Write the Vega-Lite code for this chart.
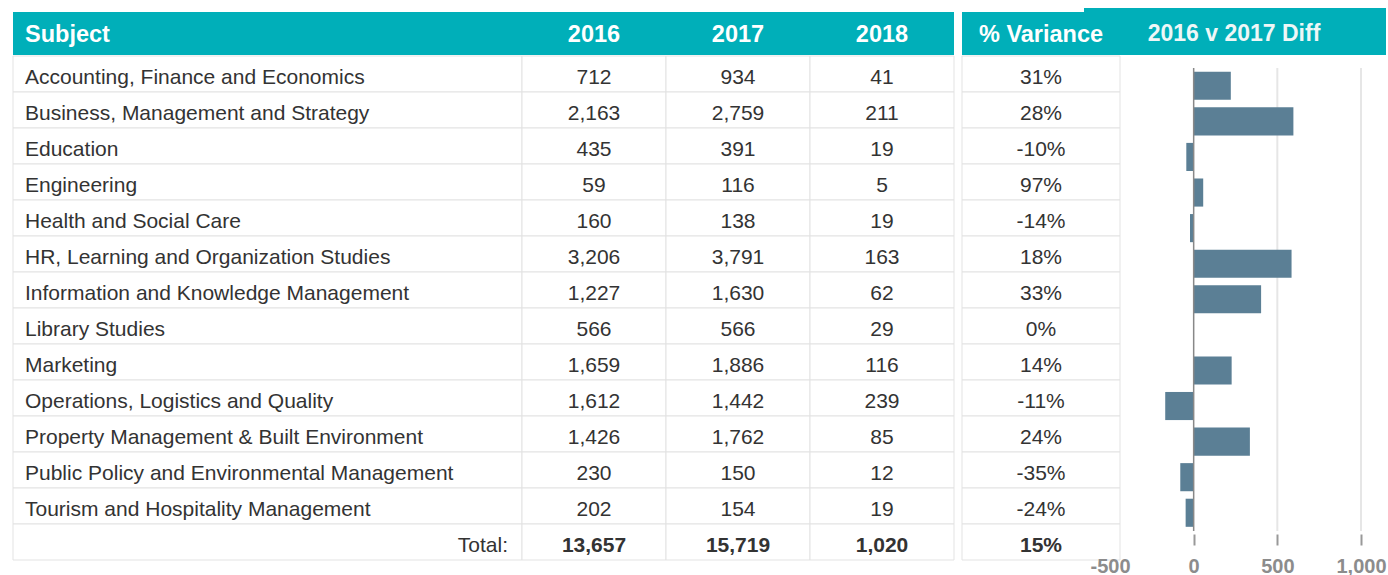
{
  "$schema": "https://vega.github.io/schema/vega-lite/v6.json",
  "background": "white",
  "padding": {"left": 12, "top": 8, "right": 0, "bottom": 0},
  "config": {
    "font": "Liberation Sans",
    "view": {"stroke": null},
    "locale": {"number": {"decimal": ".", "thousands": ",", "grouping": [3], "currency": ["$", ""], "minus": "-"}}
  },
  "datasets": {
    "rows": [
      {"row": 1, "kind": "subject", "subject": "Accounting, Finance and Economics", "y2016": 712, "y2017": 934, "y2018": 41, "variance": 0.31, "diff": 222},
      {"row": 2, "kind": "subject", "subject": "Business, Management and Strategy", "y2016": 2163, "y2017": 2759, "y2018": 211, "variance": 0.28, "diff": 596},
      {"row": 3, "kind": "subject", "subject": "Education", "y2016": 435, "y2017": 391, "y2018": 19, "variance": -0.10, "diff": -44},
      {"row": 4, "kind": "subject", "subject": "Engineering", "y2016": 59, "y2017": 116, "y2018": 5, "variance": 0.97, "diff": 57},
      {"row": 5, "kind": "subject", "subject": "Health and Social Care", "y2016": 160, "y2017": 138, "y2018": 19, "variance": -0.14, "diff": -22},
      {"row": 6, "kind": "subject", "subject": "HR, Learning and Organization Studies", "y2016": 3206, "y2017": 3791, "y2018": 163, "variance": 0.18, "diff": 585},
      {"row": 7, "kind": "subject", "subject": "Information and Knowledge Management", "y2016": 1227, "y2017": 1630, "y2018": 62, "variance": 0.33, "diff": 403},
      {"row": 8, "kind": "subject", "subject": "Library Studies", "y2016": 566, "y2017": 566, "y2018": 29, "variance": 0.0, "diff": 0},
      {"row": 9, "kind": "subject", "subject": "Marketing", "y2016": 1659, "y2017": 1886, "y2018": 116, "variance": 0.14, "diff": 227},
      {"row": 10, "kind": "subject", "subject": "Operations, Logistics and Quality", "y2016": 1612, "y2017": 1442, "y2018": 239, "variance": -0.11, "diff": -170},
      {"row": 11, "kind": "subject", "subject": "Property Management & Built Environment", "y2016": 1426, "y2017": 1762, "y2018": 85, "variance": 0.24, "diff": 336},
      {"row": 12, "kind": "subject", "subject": "Public Policy and Environmental Management", "y2016": 230, "y2017": 150, "y2018": 12, "variance": -0.35, "diff": -80},
      {"row": 13, "kind": "subject", "subject": "Tourism and Hospitality Management", "y2016": 202, "y2017": 154, "y2018": 19, "variance": -0.24, "diff": -48},
      {"row": 14, "kind": "total", "subject": "Total:", "y2016": 13657, "y2017": 15719, "y2018": 1020, "variance": 0.15}
    ],
    "gridvals": [{"v": 500}, {"v": 1000}]
  },
  "spacing": 0,
  "vconcat": [
    {
      "spacing": 0,
      "bounds": "flush",
      "hconcat": [
        {
          "width": 509, "height": 47,
          "data": {"values": [{"t": "Subject"}]},
          "layer": [
            {"mark": {"type": "rect", "color": "#00afb9", "yOffset": 4},
             "encoding": {"x": {"datum": 0, "type": "quantitative", "scale": {"domain": [0, 1]}, "axis": null}, "x2": {"datum": 1},
                          "y": {"datum": 1, "type": "quantitative", "scale": {"domain": [0, 1]}, "axis": null}, "y2": {"datum": 0}}},
            {"mark": {"type": "text", "align": "left", "dx": 12, "dy": 3, "fontSize": 23.5, "fontWeight": "bold", "color": "white"},
             "encoding": {"x": {"datum": 0, "type": "quantitative"}, "text": {"field": "t"}}}
          ]
        },
        {
          "width": 144, "height": 47,
          "data": {"values": [{"t": "2016"}]},
          "layer": [
            {"mark": {"type": "rect", "color": "#00afb9", "yOffset": 4},
             "encoding": {"x": {"datum": 0, "type": "quantitative", "scale": {"domain": [0, 1]}, "axis": null}, "x2": {"datum": 1},
                          "y": {"datum": 1, "type": "quantitative", "scale": {"domain": [0, 1]}, "axis": null}, "y2": {"datum": 0}}},
            {"mark": {"type": "text", "dy": 3, "fontSize": 23.5, "fontWeight": "bold", "color": "white"}, "encoding": {"text": {"field": "t"}}}
          ]
        },
        {
          "width": 144, "height": 47,
          "data": {"values": [{"t": "2017"}]},
          "layer": [
            {"mark": {"type": "rect", "color": "#00afb9", "yOffset": 4},
             "encoding": {"x": {"datum": 0, "type": "quantitative", "scale": {"domain": [0, 1]}, "axis": null}, "x2": {"datum": 1},
                          "y": {"datum": 1, "type": "quantitative", "scale": {"domain": [0, 1]}, "axis": null}, "y2": {"datum": 0}}},
            {"mark": {"type": "text", "dy": 3, "fontSize": 23.5, "fontWeight": "bold", "color": "white"}, "encoding": {"text": {"field": "t"}}}
          ]
        },
        {
          "width": 144, "height": 47,
          "data": {"values": [{"t": "2018"}]},
          "layer": [
            {"mark": {"type": "rect", "color": "#00afb9", "yOffset": 4},
             "encoding": {"x": {"datum": 0, "type": "quantitative", "scale": {"domain": [0, 1]}, "axis": null}, "x2": {"datum": 1},
                          "y": {"datum": 1, "type": "quantitative", "scale": {"domain": [0, 1]}, "axis": null}, "y2": {"datum": 0}}},
            {"mark": {"type": "text", "dy": 3, "fontSize": 23.5, "fontWeight": "bold", "color": "white"}, "encoding": {"text": {"field": "t"}}}
          ]
        },
        {
          "width": 156, "height": 47,
          "data": {"values": [{"t": "% Variance"}]},
          "layer": [
            {"mark": {"type": "rect", "color": "#00afb9", "xOffset": 130, "x2Offset": 276},
             "encoding": {"x": {"datum": 0, "type": "quantitative", "scale": {"domain": [0, 1]}, "axis": null}, "x2": {"datum": 1},
                          "y": {"datum": 1, "type": "quantitative", "scale": {"domain": [0, 1]}, "axis": null}, "y2": {"datum": 0}}},
            {"mark": {"type": "rect", "color": "#00afb9", "xOffset": 8, "x2Offset": 10, "yOffset": 4},
             "encoding": {"x": {"datum": 0, "type": "quantitative"}, "x2": {"datum": 1},
                          "y": {"datum": 1, "type": "quantitative"}, "y2": {"datum": 0}}},
            {"mark": {"type": "text", "dx": 9, "dy": 3, "fontSize": 23.5, "fontWeight": "bold", "color": "white"}, "encoding": {"text": {"field": "t"}}}
          ]
        },
        {
          "width": 251, "height": 47,
          "data": {"values": [{"t": "2016 v 2017 Diff"}]},
          "mark": {"type": "text", "dx": -1.5, "dy": 2.3, "fontSize": 23, "fontWeight": "bold", "color": "#eef7f7"},
          "encoding": {"text": {"field": "t"}}
        }
      ]
    },
    {
      "spacing": 0,
      "bounds": "flush",
      "hconcat": [
        {
          "width": 509, "height": 504,
          "data": {"name": "rows"},
          "layer": [
            {"mark": {"type": "rect", "fill": "white", "stroke": "#e3e3e3", "strokeWidth": 1},
             "encoding": {"y": {"field": "row", "type": "ordinal", "axis": null, "scale": {"paddingInner": 0, "paddingOuter": 0}},
                          "x": {"datum": 0, "type": "quantitative", "scale": {"domain": [0, 1]}, "axis": null}, "x2": {"datum": 1}}},
            {"transform": [{"filter": "datum.kind == 'subject'"}],
             "mark": {"type": "text", "align": "left", "dx": 12, "dy": 3.5, "fontSize": 21, "color": "#333333"},
             "encoding": {"y": {"field": "row", "type": "ordinal", "axis": null},
                          "x": {"datum": 0, "type": "quantitative"},
                          "text": {"field": "subject"}}},
            {"transform": [{"filter": "datum.kind == 'total'"}],
             "mark": {"type": "text", "align": "right", "dx": -14, "dy": 3.5, "fontSize": 21, "color": "#333333"},
             "encoding": {"y": {"field": "row", "type": "ordinal", "axis": null},
                          "x": {"datum": 1, "type": "quantitative"},
                          "text": {"field": "subject"}}}
          ]
        },
        {
          "width": 144, "height": 504,
          "data": {"name": "rows"},
          "layer": [
            {"mark": {"type": "rect", "fill": "white", "stroke": "#e3e3e3", "strokeWidth": 1},
             "encoding": {"y": {"field": "row", "type": "ordinal", "axis": null, "scale": {"paddingInner": 0, "paddingOuter": 0}},
                          "x": {"datum": 0, "type": "quantitative", "scale": {"domain": [0, 1]}, "axis": null}, "x2": {"datum": 1}}},
            {"transform": [{"filter": "datum.kind == 'subject'"}],
             "mark": {"type": "text", "dy": 3.5, "fontSize": 21, "color": "#333333"},
             "encoding": {"y": {"field": "row", "type": "ordinal", "axis": null}, "text": {"field": "y2016", "type": "quantitative", "format": ","}}},
            {"transform": [{"filter": "datum.kind == 'total'"}],
             "mark": {"type": "text", "dy": 3.5, "fontSize": 21, "fontWeight": "bold", "color": "#333333"},
             "encoding": {"y": {"field": "row", "type": "ordinal", "axis": null}, "text": {"field": "y2016", "type": "quantitative", "format": ","}}}
          ]
        },
        {
          "width": 144, "height": 504,
          "data": {"name": "rows"},
          "layer": [
            {"mark": {"type": "rect", "fill": "white", "stroke": "#e3e3e3", "strokeWidth": 1},
             "encoding": {"y": {"field": "row", "type": "ordinal", "axis": null, "scale": {"paddingInner": 0, "paddingOuter": 0}},
                          "x": {"datum": 0, "type": "quantitative", "scale": {"domain": [0, 1]}, "axis": null}, "x2": {"datum": 1}}},
            {"transform": [{"filter": "datum.kind == 'subject'"}],
             "mark": {"type": "text", "dy": 3.5, "fontSize": 21, "color": "#333333"},
             "encoding": {"y": {"field": "row", "type": "ordinal", "axis": null}, "text": {"field": "y2017", "type": "quantitative", "format": ","}}},
            {"transform": [{"filter": "datum.kind == 'total'"}],
             "mark": {"type": "text", "dy": 3.5, "fontSize": 21, "fontWeight": "bold", "color": "#333333"},
             "encoding": {"y": {"field": "row", "type": "ordinal", "axis": null}, "text": {"field": "y2017", "type": "quantitative", "format": ","}}}
          ]
        },
        {
          "width": 144, "height": 504,
          "data": {"name": "rows"},
          "layer": [
            {"mark": {"type": "rect", "fill": "white", "stroke": "#e3e3e3", "strokeWidth": 1},
             "encoding": {"y": {"field": "row", "type": "ordinal", "axis": null, "scale": {"paddingInner": 0, "paddingOuter": 0}},
                          "x": {"datum": 0, "type": "quantitative", "scale": {"domain": [0, 1]}, "axis": null}, "x2": {"datum": 1}}},
            {"transform": [{"filter": "datum.kind == 'subject'"}],
             "mark": {"type": "text", "dy": 3.5, "fontSize": 21, "color": "#333333"},
             "encoding": {"y": {"field": "row", "type": "ordinal", "axis": null}, "text": {"field": "y2018", "type": "quantitative", "format": ","}}},
            {"transform": [{"filter": "datum.kind == 'total'"}],
             "mark": {"type": "text", "dy": 3.5, "fontSize": 21, "fontWeight": "bold", "color": "#333333"},
             "encoding": {"y": {"field": "row", "type": "ordinal", "axis": null}, "text": {"field": "y2018", "type": "quantitative", "format": ","}}}
          ]
        },
        {
          "width": 156, "height": 504,
          "data": {"name": "rows"},
          "layer": [
            {"mark": {"type": "rect", "fill": "white", "stroke": "#e3e3e3", "strokeWidth": 1, "xOffset": 8, "x2Offset": 10},
             "encoding": {"y": {"field": "row", "type": "ordinal", "axis": null, "scale": {"paddingInner": 0, "paddingOuter": 0}},
                          "x": {"datum": 0, "type": "quantitative", "scale": {"domain": [0, 1]}, "axis": null}, "x2": {"datum": 1}}},
            {"transform": [{"filter": "datum.kind == 'subject'"}],
             "mark": {"type": "text", "dx": 9, "dy": 3.5, "fontSize": 21, "color": "#333333"},
             "encoding": {"y": {"field": "row", "type": "ordinal", "axis": null}, "text": {"field": "variance", "type": "quantitative", "format": ".0%"}}},
            {"transform": [{"filter": "datum.kind == 'total'"}],
             "mark": {"type": "text", "dx": 9, "dy": 3.5, "fontSize": 21, "fontWeight": "bold", "color": "#333333"},
             "encoding": {"y": {"field": "row", "type": "ordinal", "axis": null}, "text": {"field": "variance", "type": "quantitative", "format": ".0%"}}}
          ]
        },
        {
          "width": 251, "height": 475,
          "layer": [
            {"data": {"name": "gridvals"},
             "mark": {"type": "rule", "color": "#e6e6e6", "strokeWidth": 2, "yOffset": 12},
             "encoding": {"x": {"field": "v", "type": "quantitative"}}},
            {"data": {"name": "rows"},
             "transform": [{"filter": "datum.kind == 'subject'"}],
             "mark": {"type": "bar", "color": "#5b7f95"},
             "encoding": {
               "y": {"field": "row", "type": "ordinal", "axis": null, "scale": {"paddingInner": 0.21, "paddingOuter": 0.28, "align": 0.79}},
               "x": {"field": "diff", "type": "quantitative", "title": null,
                     "scale": {"domain": [-500, 1000], "nice": false},
                     "axis": {"values": [-500, 0, 500, 1000], "format": ",.0f", "domain": false, "grid": false,
                              "tickColor": "#999999", "tickWidth": 2, "tickSize": 11,
                              "tickOpacity": {"condition": {"test": "datum.value >= 0", "value": 1}, "value": 0},
                              "offset": 3, "labelFontSize": 20, "labelFontWeight": "bold", "labelColor": "#8c8c8c",
                              "labelPadding": 11, "labelFlush": false, "labelOverlap": false}}
             }},
            {"data": {"values": [{"z": 0}]},
             "mark": {"type": "rule", "color": "#888888", "strokeWidth": 1.5, "yOffset": 12},
             "encoding": {"x": {"field": "z", "type": "quantitative"}}}
          ]
        }
      ]
    }
  ]
}
